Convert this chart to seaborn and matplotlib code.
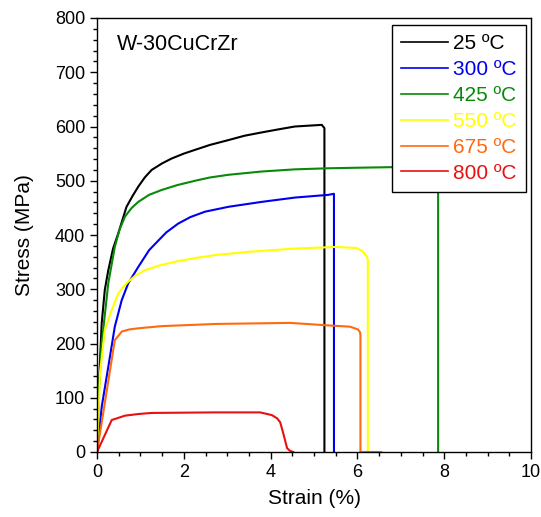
import numpy as np
import pandas as pd
import matplotlib
matplotlib.use('Agg')
import matplotlib.pyplot as plt
import seaborn as sns
from matplotlib.ticker import MultipleLocator

labels = ['25 ºC', '300 ºC', '425 ºC', '550 ºC', '675 ºC', '800 ºC']
colors = ['#000000', '#0000f0', '#088a08', '#ffff00', '#ff6a10', '#e81010']

strain_25 = [0, 0.03, 0.108, 0.18, 0.26, 0.37, 0.49, 0.68, 0.82, 0.95, 1.1, 1.26, 1.5, 1.72, 2.0, 2.26, 2.6, 3.03, 3.4, 3.79, 4.2, 4.56, 5.18, 5.24, 5.24]
stress_25 = [0, 96, 237, 299, 335, 375, 403, 452, 472, 489, 506, 520, 532, 541, 550, 557, 566, 575, 583, 589, 595, 600, 603, 597, 0]

strain_300 = [0, 0.11, 0.26, 0.41, 0.57, 0.72, 0.95, 1.2, 1.38, 1.6, 1.87, 2.15, 2.49, 3.03, 3.79, 4.56, 5.33, 5.46, 5.46]
stress_300 = [0, 84, 157, 231, 280, 311, 341, 372, 387, 405, 421, 433, 443, 452, 461, 469, 474, 476, 0]

strain_425 = [0, 0.05, 0.108, 0.26, 0.41, 0.52, 0.645, 0.8, 0.95, 1.2, 1.49, 1.85, 2.26, 2.6, 3.03, 3.79, 4.56, 5.33, 6.0, 6.75, 7.3, 7.84, 7.86, 7.86]
stress_425 = [0, 120, 200, 311, 378, 410, 434, 450, 461, 474, 483, 492, 500, 506, 511, 517, 521, 523, 524, 525, 526, 526, 520, 0]

strain_550 = [0, 0.07, 0.18, 0.34, 0.49, 0.6, 0.72, 0.9, 1.1, 1.45, 1.87, 2.3, 2.72, 3.5, 4.56, 5.5, 5.99, 6.13, 6.22, 6.24, 6.24, 6.3]
stress_550 = [0, 145, 225, 262, 292, 304, 314, 326, 335, 344, 352, 358, 363, 369, 375, 378, 376, 369, 360, 355, 0, 0]

strain_675 = [0, 0.41, 0.57, 0.75, 0.95, 1.49, 2.72, 4.45, 5.2, 5.83, 6.01, 6.06, 6.07, 6.07, 6.55]
stress_675 = [0, 206, 222, 226, 228, 232, 236, 238, 234, 231, 226, 221, 215, 0, 0]

strain_800 = [0, 0.34, 0.645, 0.95, 1.26, 2.72, 3.76, 4.03, 4.15, 4.22, 4.29, 4.38, 4.45, 4.52]
stress_800 = [0, 59, 67, 70, 72, 73, 73, 68, 62, 55, 35, 7, 2, 0]

strains = [strain_25, strain_300, strain_425, strain_550, strain_675, strain_800]
stresses = [stress_25, stress_300, stress_425, stress_550, stress_675, stress_800]

frames = []
for lab, s, t in zip(labels, strains, stresses):
    frames.append(pd.DataFrame({'strain': s, 'stress': t, 'temp': lab}))
df = pd.concat(frames, ignore_index=True)

plt.rcParams['font.family'] = ['Liberation Sans', 'DejaVu Sans']

fig = plt.figure(figsize=(5.41, 5.17), dpi=100)
ax = fig.add_axes([97 / 541, 65 / 517, 434 / 541, 434 / 517])

sns.lineplot(data=df, x='strain', y='stress', hue='temp', hue_order=labels,
             palette=dict(zip(labels, colors)), sort=False, estimator=None,
             units='temp', linewidth=1.5, ax=ax, legend=True)

ax.set_xlim(0, 10)
ax.set_ylim(0, 800)
ax.xaxis.set_major_locator(MultipleLocator(2))
ax.xaxis.set_minor_locator(MultipleLocator(0.5))
ax.yaxis.set_major_locator(MultipleLocator(100))
ax.yaxis.set_minor_locator(MultipleLocator(20))
ax.tick_params(which='both', direction='out', top=False, right=False, width=1, labelsize=13, colors='black')
ax.tick_params(which='major', length=5)
ax.tick_params(which='minor', length=3)
for sp in ax.spines.values():
    sp.set_linewidth(1)
    sp.set_color('black')

ax.set_xlabel('Strain (%)', fontsize=15, labelpad=6)
ax.set_ylabel('Stress (MPa)', fontsize=15, labelpad=15)
ax.text(0.046, 0.938, 'W-30CuCrZr', transform=ax.transAxes, fontsize=15.5, ha='left', va='center')

leg = ax.legend(loc='upper right', bbox_to_anchor=(0.989, 0.984), borderaxespad=0,
                fontsize=15, handlelength=2.25, handletextpad=0.25, labelspacing=0.33,
                borderpad=0.45, fancybox=False, framealpha=1, edgecolor='black')
leg.get_frame().set_linewidth(1)
for txt, c in zip(leg.get_texts(), colors):
    txt.set_color(c)
for ln in leg.get_lines():
    ln.set_linewidth(1.2)

fig.savefig('out.png', dpi=100)
